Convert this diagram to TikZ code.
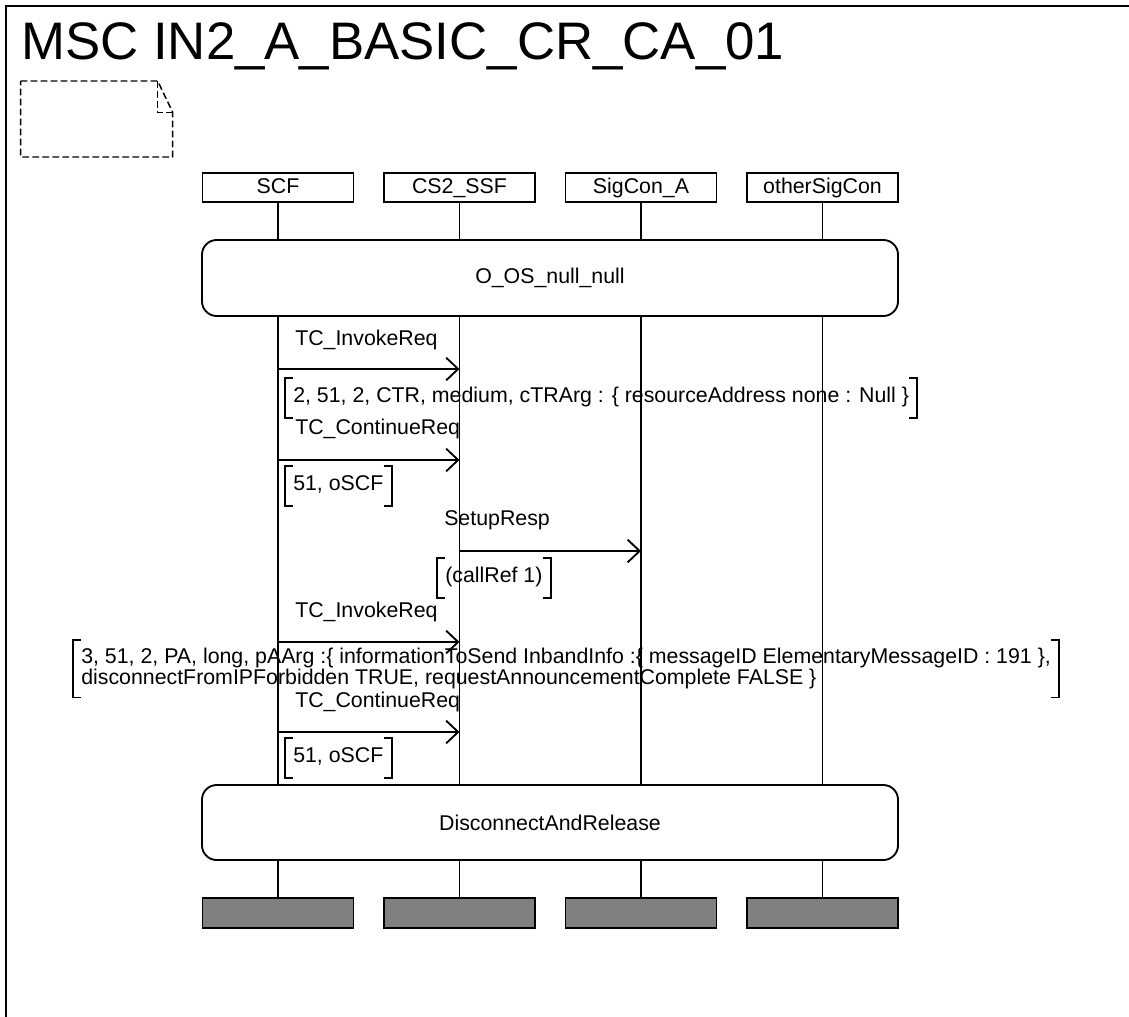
\documentclass[tikz,border=0pt]{standalone}
\usepackage{fontspec}
\setmainfont{Liberation Sans}
\usetikzlibrary{arrows.meta}
\newcommand{\mscfont}{\fontsize{16pt}{15.8pt}\selectfont}
\newcommand{\titlefont}{\fontsize{39.6pt}{44pt}\selectfont}
\newcommand{\cbrackets}[1]{%
    \draw[mscline] ([xshift=6pt]#1.north west) -- (#1.north west) -- (#1.south west) -- ([xshift=6pt]#1.south west);
    \draw[mscline] ([xshift=-6pt]#1.north east) -- (#1.north east) -- (#1.south east) -- ([xshift=-6pt]#1.south east);
}
\tikzset{
    mscline/.style = {
        line width=1.4pt,
        draw=black
    },
    headnode/.style = {
        mscline,
        rectangle,
        inner sep=0pt,
        text height=11.5pt,
        text depth=3pt,
        minimum width=113.25pt,
        minimum height=21.75pt,
        font=\mscfont
    },
    endnode/.style = {
        headnode,
        fill=black!50,
        minimum height=22.5pt
    },
    refnode/.style = {
        mscline,
        rectangle,
        rounded corners=11pt,
        inner sep=0pt,
        minimum width=522pt,
        font=\mscfont
    },
    msglabel/.style = {
        inner sep=0pt,
        anchor=base west,
        font=\mscfont
    },
    msgarrow/.style = {
        mscline,
        -{Straight Barb[length=9pt,width=17pt]}
    },
    msgcomment/.style = {
        inner xsep=6pt,
        inner ysep=0pt,
        anchor=base west,
        text height=18pt,
        text depth=12pt,
        font=\mscfont
    },
    longcomment/.style = {
        inner xsep=6pt,
        inner ysep=6pt,
        anchor=north west,
        align=left,
        font=\mscfont
    }
}

\begin{document}
\begin{tikzpicture}[x=0.75pt, y=-0.75pt]
    \useasboundingbox (0,0) rectangle (1129,1017);
    % frame, title and empty note
    \draw[line width=1.8pt] (1140,6) -- (6,6) -- (6,1030);
    \node[anchor=base west, inner sep=0pt, font=\titlefont] (title) at (21,60) {MSC IN2\_A\_BASIC\_CR\_CA\_01};
    \draw[line width=1.1pt, dash pattern=on 5pt off 2.5pt] (20.7,81) -- (157.7,81) -- (172.7,112.3) -- (172.7,157) -- (20.7,157) -- cycle;
    \draw[line width=1.1pt, dash pattern=on 5pt off 2.5pt] (157.7,81) |- (172.7,112.3);

    % instances
    \node[headnode] (scf) at (278,187.5) {SCF};
    \node[headnode] (ssf) at (459.5,187.5) {CS2\_SSF};
    \node[headnode] (sig) at (641,187.5) {SigCon\_A};
    \node[headnode] (oth) at (822.5,187.5) {otherSigCon};

    \node[refnode, minimum height=57pt] (oos) at (550,278) {O\_OS\_null\_null};
    \node[refnode, minimum height=56.25pt] (dar) at (550,822.5) {DisconnectAndRelease};

    \node[endnode] (scfend) at (278,913) {};
    \node[endnode] (ssfend) at (459.5,913) {};
    \node[endnode] (sigend) at (641,913) {};
    \node[endnode] (othend) at (822.5,913) {};

    \draw[mscline] (scf) -- (scf |- oos.north) (scf |- oos.south) -- (scf |- dar.north) (scf |- dar.south) -- (scfend);
    \draw[mscline] (ssf) -- (ssf |- oos.north) (ssf |- oos.south) -- (ssf |- dar.north) (ssf |- dar.south) -- (ssfend);
    \draw[mscline] (sig) -- (sig |- oos.north) (sig |- oos.south) -- (sig |- dar.north) (sig |- dar.south) -- (sigend);
    \draw[mscline] (oth) -- (oth |- oos.north) (oth |- oos.south) -- (oth |- dar.north) (oth |- dar.south) -- (othend);

    % messages
    \coordinate (m1) at (0,369);
    \draw[msgarrow] (scf |- m1) -- (ssf |- m1);
    \node[msglabel] (m1lbl) at (295,345) {TC\_InvokeReq};
    \node[msgcomment] (c1) at (285,402) {2, 51, 2, CTR, medium, cTRArg : \{ resourceAddress none : Null \}};
    \cbrackets{c1}

    \coordinate (m2) at (0,460);
    \draw[msgarrow] (scf |- m2) -- (ssf |- m2);
    \node[msglabel] (m2lbl) at (295,434) {TC\_ContinueReq};
    \node[msgcomment] (c2) at (285,490) {51, oSCF};
    \cbrackets{c2}

    \coordinate (m3) at (0,551);
    \draw[msgarrow] (ssf |- m3) -- (sig |- m3);
    \node[msglabel] (m3lbl) at (444,525) {SetupResp};
    \node[msgcomment] (c3) at (437,582) {(callRef 1)};
    \cbrackets{c3}

    \coordinate (m4) at (0,642);
    \draw[msgarrow] (scf |- m4) -- (ssf |- m4);
    \node[msglabel] (m4lbl) at (295,617) {TC\_InvokeReq};
    \node[longcomment] (c4) at (73,640) {3, 51, 2, PA, long, pAArg :\{ informationToSend InbandInfo :\{ messageID ElementaryMessageID : 191 \},\\
        disconnectFromIPForbidden TRUE, requestAnnouncementComplete FALSE \}};
    \cbrackets{c4}

    \coordinate (m5) at (0,732);
    \draw[msgarrow] (scf |- m5) -- (ssf |- m5);
    \node[msglabel] (m5lbl) at (295,707) {TC\_ContinueReq};
    \node[msgcomment] (c5) at (285,762) {51, oSCF};
    \cbrackets{c5}
\end{tikzpicture}
\end{document}
